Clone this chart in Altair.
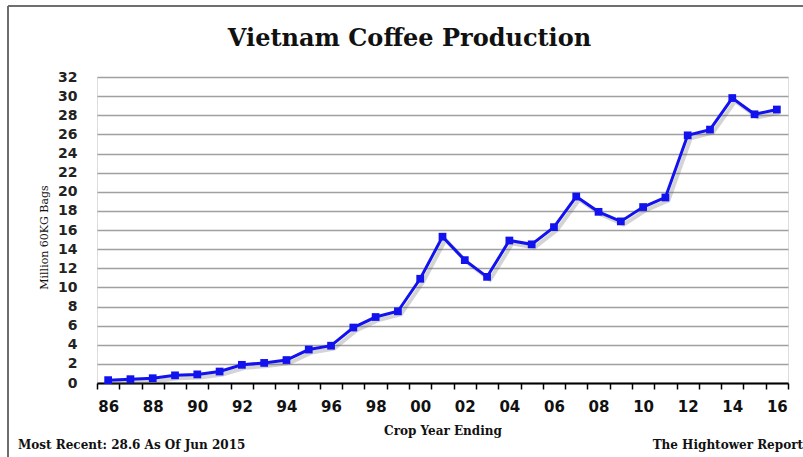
import altair as alt
import pandas as pd

# Vietnam coffee output by crop year ending (million 60 kg bags)
years = list(range(1986, 2017))
production = [0.3, 0.4, 0.5, 0.8, 0.9, 1.2, 1.9, 2.1, 2.4, 3.5,
              3.9, 5.8, 6.9, 7.5, 10.9, 15.3, 12.85, 11.1, 14.9, 14.5,
              16.3, 19.5, 17.9, 16.9, 18.4, 19.4, 25.9, 26.5, 29.8, 28.1,
              28.6]
y_ticks = list(range(0, 33, 2))
# tick marks sit on the boundaries between crop years
year_bounds = [1985.5 + i for i in range(len(years) + 1)]

df = pd.DataFrame({"year": years, "bags": production})

W, H = 691, 306
half_band = W / len(years) / 2
SERIF = "DejaVu Serif"

x_scale = alt.Scale(domain=[1985.5, 2016.5], nice=False, zero=False)
y_scale = alt.Scale(domain=[0, 32], nice=False)

x_axis = alt.Axis(
    values=year_bounds,
    labelExpr="datum.value < 2016 && floor(datum.value + 0.5) % 2 == 0 ? "
              "slice('0' + (floor(datum.value + 0.5) % 100), -2) : ''",
    labelOffset=half_band,
    labelFlush=False,
    labelOverlap=False,
    labelFont="DejaVu Sans",
    labelFontWeight="bold",
    labelFontSize=15,
    labelColor="#111111",
    labelPadding=10,
    tickSize=6,
    tickColor="#000000",
    tickWidth=1.5,
    domainColor="#000000",
    domainWidth=2,
    grid=False,
    title="Crop Year Ending",
    titleFont=SERIF,
    titleFontSize=12,
    titleFontWeight="bold",
    titleColor="#111111",
    titlePadding=11,
)

y_axis = alt.Axis(
    values=y_ticks,
    grid=True,
    gridColor="#a0a0a0",
    gridWidth=1.5,
    domain=False,
    ticks=False,
    labelFont="DejaVu Sans",
    labelFontWeight="bold",
    labelFontSize=14,
    labelColor="#222222",
    labelPadding=20,
    title="Million 60KG Bags",
    titleFont=SERIF,
    titleFontSize=11,
    titleFontWeight="normal",
    titleColor="#111111",
    titleX=-48,
    titleY=160,
)

base = alt.Chart(df).encode(
    x=alt.X("year:Q", scale=x_scale, axis=x_axis),
    y=alt.Y("bags:Q", scale=y_scale, axis=y_axis),
)

shadow = base.mark_line(color="#555555", opacity=0.25, strokeWidth=4,
                        xOffset=3, yOffset=3)
line = base.mark_line(color="#1212ee", strokeWidth=3)
points = base.mark_point(shape="square", filled=True, size=60,
                         color="#1212ee", opacity=1)

one = pd.DataFrame({"k": [0]})
frame_left = alt.Chart(one).mark_rule(color="#6e6e6e", strokeWidth=2).encode(
    x=alt.value(-89), y=alt.value(-71), y2=alt.value(H + 80))
frame_top = alt.Chart(one).mark_rule(color="#6e6e6e", strokeWidth=2).encode(
    x=alt.value(-89), x2=alt.value(W + 20), y=alt.value(-71))

title = alt.Chart(one).mark_text(
    text="Vietnam Coffee Production", align="center", baseline="alphabetic",
    font=SERIF, fontSize=24, fontWeight="bold", color="#111111"
).encode(x=alt.value(W / 2 - 33), y=alt.value(-31))

note_left = alt.Chart(one).mark_text(
    text="Most Recent: 28.6 As Of Jun 2015", align="left", baseline="middle",
    font=SERIF, fontSize=12, fontWeight="bold", color="#111111"
).encode(x=alt.value(-79), y=alt.value(H + 62))

note_right = alt.Chart(one).mark_text(
    text="The Hightower Report", align="right", baseline="middle",
    font=SERIF, fontSize=12, fontWeight="bold", color="#111111"
).encode(x=alt.value(W + 15), y=alt.value(H + 62))

chart = alt.layer(
    frame_left, frame_top, title, shadow, line, points, note_left, note_right
).properties(
    width=W,
    height=H,
    autosize=alt.AutoSizeParams(type="none"),
    padding={"left": 97, "top": 77, "right": 15, "bottom": 74},
).configure_view(stroke=None).configure(background="white")

chart.save("out.html", embed_options={"renderer": "svg", "actions": False})
